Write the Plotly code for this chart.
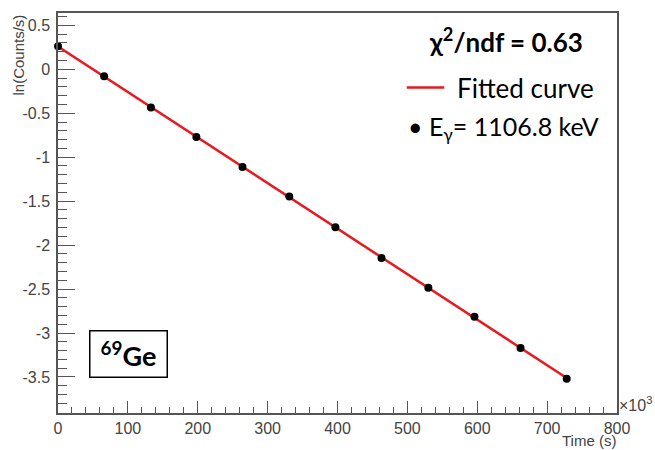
import numpy as np
import plotly.graph_objects as go

# Data (time in units of 10^3 s, ln(counts/s))
time_k = [0, 66, 133, 198, 264, 331, 397, 463, 530, 596, 662, 728]
ln_counts = [0.261, -0.080, -0.436, -0.771, -1.112, -1.447, -1.798, -2.147,
             -2.484, -2.814, -3.171, -3.520]

x_ticks = [0, 100, 200, 300, 400, 500, 600, 700, 800]
y_ticks = [0.5, 0, -0.5, -1, -1.5, -2, -2.5, -3, -3.5]

# Linear fit of the data (the fitted curve)
slope, intercept = np.polyfit(time_k, ln_counts, 1)
fit_x = [time_k[0], time_k[-1]]
fit_y = [intercept + slope * v for v in fit_x]

RED = "#e8191f"
AX = "#555555"
FAM = "Liberation Sans, Arial, sans-serif"
TICKFONT = dict(family=FAM, size=16, color="#444444")
TXTFONT = "Lato, Open Sans, sans-serif"

fig = go.Figure()
fig.add_trace(go.Scatter(x=fit_x, y=fit_y, mode="lines",
                         line=dict(color=RED, width=2.5),
                         name="Fitted curve", showlegend=False, hoverinfo="skip",
                         cliponaxis=False))
fig.add_trace(go.Scatter(x=time_k, y=ln_counts, mode="markers",
                         marker=dict(color="black", size=8),
                         name="Eγ= 1106.8 keV", showlegend=False, cliponaxis=False))

fig.update_layout(
    width=655, height=450,
    margin=dict(l=58, r=38, t=13, b=37),
    paper_bgcolor="white", plot_bgcolor="white",
    showlegend=False,
    xaxis=dict(range=[0, 800], tickvals=x_ticks, ticktext=[str(v) for v in x_ticks],
               ticks="inside", ticklen=12, tickwidth=1.3, tickcolor=AX,
               minor=dict(dtick=20, tick0=0, ticks="inside", ticklen=6, tickwidth=1.3, tickcolor=AX),
               showline=True, linecolor=AX, linewidth=1.5, mirror=True,
               showgrid=False, zeroline=False, tickfont=TICKFONT, ticklabelstandoff=0),
    yaxis=dict(range=[-3.91, 0.64], tickvals=y_ticks, ticktext=[("%g" % v) for v in y_ticks],
               ticks="inside", ticklen=17, tickwidth=1.3, tickcolor=AX,
               minor=dict(dtick=0.1, tick0=0, ticks="inside", ticklen=9, tickwidth=1.3, tickcolor=AX),
               showline=True, linecolor=AX, linewidth=1.5, mirror=True,
               showgrid=False, zeroline=False, tickfont=TICKFONT, ticklabelstandoff=3),
)

# Axis titles (ROOT style, aligned to the axis ends)
fig.add_annotation(text="ln(Counts/s)", xref="paper", yref="paper", x=0, y=1.0,
                   xshift=-40, xanchor="center", yanchor="top", textangle=-90,
                   showarrow=False, font=dict(family=FAM, size=15, color="#444444"))
fig.add_annotation(text="Time (s)", xref="paper", yref="paper", x=1, y=-0.0925,
                   xanchor="right", yanchor="bottom", showarrow=False, borderpad=0,
                   font=dict(family=FAM, size=15, color="#444444"))
fig.add_annotation(text="×10<sup>3</sup>", xref="paper", yref="paper", x=1, y=0.022,
                   xanchor="left", yanchor="middle", showarrow=False,
                   font=dict(family=FAM, size=16, color="#444444"))

# Legend-like text block
fig.add_annotation(text="<b>χ<sup>2</sup>/ndf = 0.63</b>", xref="paper", yref="paper",
                   x=0.802, y=0.93, xanchor="center", yanchor="middle", showarrow=False,
                   font=dict(family=TXTFONT, size=26, color="black"))
fig.add_shape(type="line", xref="paper", yref="paper", x0=0.624, x1=0.691, y0=0.8135, y1=0.8135,
              line=dict(color=RED, width=2.5))
fig.add_annotation(text="Fitted curve", xref="paper", yref="paper", x=0.71, y=0.812,
                   xanchor="left", yanchor="middle", showarrow=False,
                   font=dict(family=TXTFONT, size=26, color="black"))
fig.add_annotation(text="• E<sub>γ</sub>= 1106.8 keV", xref="paper", yref="paper", x=0.622, y=0.712,
                   xanchor="left", yanchor="middle", showarrow=False,
                   font=dict(family=TXTFONT, size=25, color="black"))

# Isotope label box
fig.add_annotation(text="<b><sup>69</sup>Ge</b>", xref="paper", yref="paper", x=0.127, y=0.1475,
                   xanchor="center", yanchor="middle", showarrow=False,
                   width=76, height=45, borderpad=0, bordercolor="black", borderwidth=1.5,
                   bgcolor="white", font=dict(family=TXTFONT, size=27, color="black"))

fig.write_html("out.html")
